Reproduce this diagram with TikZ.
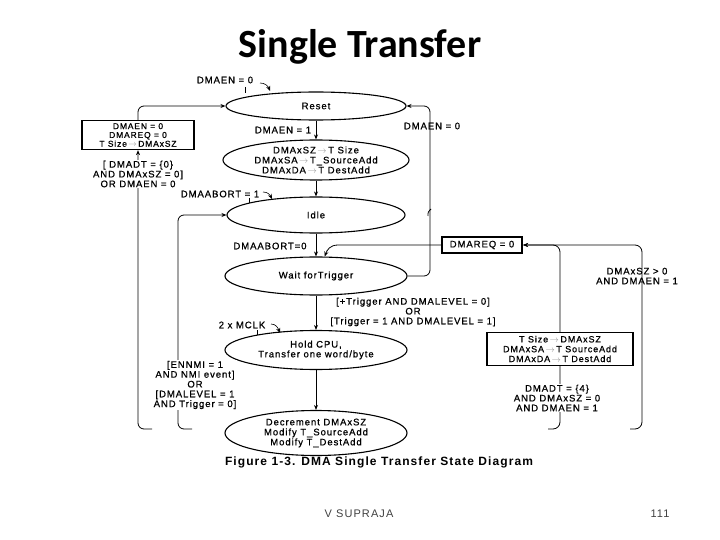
\documentclass[tikz,border=0pt]{standalone}
\usepackage{fontspec}
\usetikzlibrary{shapes.geometric,arrows.meta}
\newfontfamily\dgfont[LetterSpace=10,FakeBold=0.8]{Liberation Sans}
\newfontfamily\capfont[LetterSpace=9]{Liberation Sans}
\newfontfamily\footfont[LetterSpace=10]{Liberation Sans}
\newfontfamily\titlefont{Carlito}
\newcommand\tarrow{\,{\color{black!40}$\rightarrow$}\,}
\tikzset{
  state/.style={ellipse, draw, line width=1.1pt, inner sep=0pt},
  txt/.style={align=center, inner sep=1pt, font=\dgfont\fontsize{9.5}{9.8}\selectfont},
  flow/.style={-{Stealth[length=5pt,width=4pt]}, line width=0.8pt},
  plain/.style={line width=0.8pt},
  abox/.style={draw, inner sep=0pt, fill=white}
}
\begin{document}
\begin{tikzpicture}[x=1pt,y=-1pt]
\useasboundingbox (0,0) rectangle (720,540);
% title
\node[font=\titlefont\bfseries\fontsize{40}{40}\selectfont] (title) at (360,47) {Single Transfer};
% states
\node[state, minimum width=180pt, minimum height=28pt] (reset) at (316,106) {};
\node[txt] at (reset) {Reset};
\node[state, minimum width=186pt, minimum height=40pt] (s2) at (316,160) {};
\node[txt, font=\dgfont\fontsize{9.5}{10}\selectfont] at (s2) {DMAxSZ\tarrow T Size\\DMAxSA\tarrow T\_SourceAdd\\DMAxDA\tarrow T DestAdd};
\node[state, minimum width=178pt, minimum height=36pt] (idle) at (316,215) {};
\node[txt] at (idle) {Idle};
\node[state, minimum width=182pt, minimum height=38pt] (wait) at (316,276) {};
\node[txt] at (wait) {Wait forTrigger};
\node[state, minimum width=182pt, minimum height=39pt] (hold) at (316,350) {};
\node[txt] at (hold) {Hold CPU,\\Transfer one word/byte};
\node[state, minimum width=182pt, minimum height=45pt] (dec) at (316,433) {};
\node[txt, font=\dgfont\fontsize{9.5}{10}\selectfont] at (dec) {Decrement DMAxSZ\\Modify T\_SourceAdd\\Modify T\_DestAdd};
% boxes
\node[abox, line width=1.3pt, minimum width=112pt, minimum height=29pt] (lbox) at (138,135) {};
\node[txt, font=\dgfont\fontsize{8.5}{8.8}\selectfont] at (lbox) {DMAEN = 0\\DMAREQ = 0\\T Size\tarrow DMAxSZ};
\node[abox, line width=2.2pt, minimum width=80pt, minimum height=16pt] (rq) at (482,245) {};
\node[txt] at (rq) {DMAREQ = 0};
% vertical main flow
\draw[flow] (reset.south) -- (s2.north);
\draw[flow] (s2.south) -- (idle.north);
\draw[flow] (idle.south) -- (wait.north);
\draw[flow] (wait.south) -- (hold.north);
\draw[flow] (hold.south) -- (dec.north);
% left loops
\draw[flow, rounded corners=6pt] (lbox.north) |- (reset.west);
\coordinate (lstubA) at (152,429);
\coordinate (lstubB) at (192,429);
\draw[flow, rounded corners=6pt] (lstubA) -- (138,429) -- (lbox.south);
\draw[flow, rounded corners=6pt] (lstubB) -- (178,429) |- (idle.west);
% right loop to reset
\draw[flow, rounded corners=6pt] (wait.east) -- (430,276) -- (430,106) -- (reset.east);
% DMAREQ to wait
\coordinate (wtop) at (wait.66);
\draw[flow] (rq.west) -- (338,245) .. controls (330,245) and (327,250) .. (wtop);
% right side lines
\coordinate (rstubA) at (548,429);
\coordinate (rstubB) at (630,429);
\draw[flow, rounded corners=7pt] (rstubA) -- (560,429) -- (560,245) -- (rq.east);
\draw[flow, rounded corners=7pt] (rstubB) -- (642,429) -- (642,245) -- (rq.east);
\node[abox, line width=1.6pt, minimum width=146pt, minimum height=33pt] (tbox) at (560,349) {};
\node[txt, font=\dgfont\fontsize{9}{9.8}\selectfont] at (tbox) {T Size\tarrow DMAxSZ\\DMAxSA\tarrow T SourceAdd\\DMAxDA\tarrow T DestAdd};
% small arc near idle
\coordinate (hopA) at (428,216);
\coordinate (hopB) at (431,209);
\draw[plain] (hopA) .. controls (428,212) .. (hopB);
% self loops
\coordinate (rlA) at (260,83);
\coordinate (rlB) at (270,91);
\draw[flow, line width=0.6pt] (rlA) .. controls (265,83) and (268,86) .. (rlB);
\coordinate (rtA) at (245,87);
\coordinate (rtB) at (245,93);
\draw[plain] (rtA) -- (rtB);
\coordinate (ilA) at (263,192);
\coordinate (ilB) at (272,199);
\draw[flow, line width=0.6pt] (ilA) .. controls (268,192) and (270,195) .. (ilB);
\coordinate (itA) at (249,198);
\coordinate (itB) at (249,203);
\draw[plain] (itA) -- (itB);
\coordinate (hlA) at (271,324);
\coordinate (hlB) at (280,333);
\draw[flow, line width=0.6pt] (hlA) .. controls (276,324) and (278,328) .. (hlB);
\coordinate (htA) at (257,330);
\coordinate (htB) at (257,335);
\draw[plain] (htA) -- (htB);
% labels
\node[txt] (lbSelf) at (225,80) {DMAEN = 0};
\node[txt] (lbEn1) at (283,130) {DMAEN = 1};
\node[txt] (lbEn0r) at (432,126) {DMAEN = 0};
\node[txt, fill=white] (lbAbort) at (138,174) {[ DMADT = \{0\}\\{}AND DMAxSZ = 0]\\{}OR DMAEN = 0};
\node[txt] (lbAb1) at (220,194) {DMAABORT = 1};
\node[txt] (lbAb0) at (270,246) {DMAABORT=0};
\node[txt] (lbTrig) at (413,312) {[+Trigger AND DMALEVEL = 0]\\{}OR\\{}[Trigger = 1 AND DMALEVEL = 1]};
\node[txt] (lbClk) at (242,325) {2 x MCLK};
\node[txt, fill=white] (lbNmi) at (195,385) {[ENNMI = 1\\{}AND NMI event]\\{}OR\\{}[DMALEVEL = 1\\{}AND Trigger = 0]};
\node[txt] (lbGt) at (637,276) {DMAxSZ > 0\\{}AND DMAEN = 1};
\node[txt, fill=white] (lbRep) at (557,398) {DMADT = \{4\}\\{}AND DMAxSZ = 0\\{}AND DMAEN = 1};
% caption and footer
\node[font=\capfont\bfseries\fontsize{12}{12}\selectfont] (cap) at (379,462) {Figure 1-3. DMA Single Transfer State Diagram};
\node[font=\footfont\fontsize{11}{11}\selectfont, text=black!75] (foot) at (359,514) {V SUPRAJA};
\node[font=\footfont\fontsize{11}{11}\selectfont, text=black!75] (page) at (660,514) {111};
\end{tikzpicture}
\end{document}
